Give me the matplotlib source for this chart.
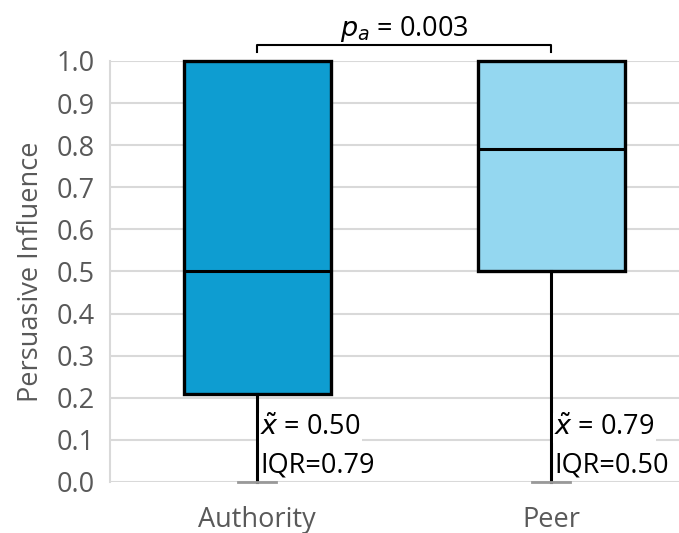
import matplotlib.pyplot as plt

plt.rcParams['font.family'] = ['Open Sans', 'DejaVu Sans']
plt.rcParams['mathtext.fontset'] = 'dejavusans'

groups = ["Authority", "Peer"]
q1 = [0.21, 0.50]
medians = [0.50, 0.79]
q3 = [1.0, 1.0]
whislo = [0.0, 0.0]
whishi = [1.0, 1.0]
iqr_labels = ["0.79", "0.50"]
median_labels = ["0.50", "0.79"]
p_value = "0.003"
colors = ["#0E9DD1", "#94D7F0"]
yticks = [0.0, 0.1, 0.2, 0.3, 0.4, 0.5, 0.6, 0.7, 0.8, 0.9, 1.0]

fig = plt.figure(figsize=(6.79, 5.33), dpi=100)
ax = fig.add_axes([0.162, 0.0957, 0.838, 0.79])

stats = []
for i, g in enumerate(groups):
    stats.append({"label": g, "q1": q1[i], "med": medians[i], "q3": q3[i],
                  "whislo": whislo[i], "whishi": whishi[i], "fliers": []})

bp = ax.bxp(stats, positions=[0, 1], widths=0.5, patch_artist=True,
            showfliers=False,
            boxprops=dict(linewidth=2.4, edgecolor="black"),
            medianprops=dict(color="black", linewidth=2.2),
            whiskerprops=dict(color="black", linewidth=2.2),
            capprops=dict(color="#999999", linewidth=2.0),
            capwidths=0.13)
for patch, c in zip(bp["boxes"], colors):
    patch.set_facecolor(c)
for art in bp["boxes"] + bp["medians"] + bp["whiskers"] + bp["caps"]:
    art.set_clip_on(False)
    art.set_zorder(3)
# only the lower caps are visible
for cap in bp["caps"][1::2]:
    cap.set_visible(False)

for i in range(len(groups)):
    ax.text(i + 0.01, 0.128, r"$\tilde{x}$ = " + median_labels[i], fontsize=19.5,
            va="center", ha="left", zorder=4,
            bbox=dict(facecolor="white", edgecolor="none", pad=1))
    ax.text(i + 0.01, 0.038, "IQR=" + iqr_labels[i], fontsize=19.5,
            va="center", ha="left", zorder=4)

# significance bracket
yb = 1.038
ax.plot([0, 0, 1, 1], [yb - 0.017, yb, yb, yb - 0.017], color="black",
        linewidth=1.5, clip_on=False)
ax.text(0.5, yb + 0.003, r"$p_a$ = " + p_value, fontsize=19.5, ha="center",
        va="bottom")

ax.set_xlim(-0.5, 1.434)
ax.set_ylim(0, 1)
ax.set_yticks(yticks)
ax.set_yticklabels([f"{t:.1f}" for t in yticks])
ax.set_xticks([0, 1])
ax.set_xticklabels(groups)
ax.tick_params(axis="y", length=0, labelsize=19.5, labelcolor="#595959", pad=11)
ax.tick_params(axis="x", length=0, labelsize=19.5, labelcolor="#595959", pad=17)
ax.yaxis.grid(True, color="#D9D9D9", linewidth=1.5, zorder=0)
ax.set_axisbelow(True)
for s in ["top", "right", "bottom"]:
    ax.spines[s].set_visible(False)
ax.spines["left"].set_color("#D9D9D9")
ax.spines["left"].set_linewidth(1.5)
ax.set_ylabel("Persuasive Influence", fontsize=19.5, color="#595959", labelpad=8)

fig.savefig("out.png", dpi=100)
